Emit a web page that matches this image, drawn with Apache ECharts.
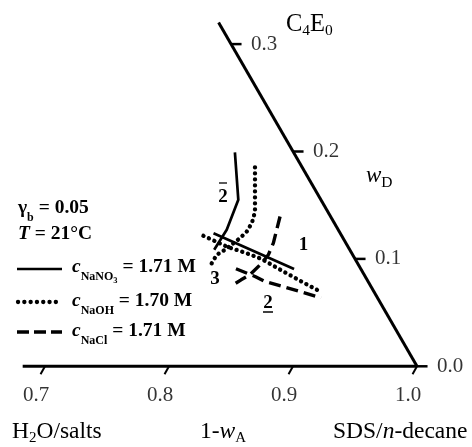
<!DOCTYPE html>
<html><head><meta charset="utf-8">
<script src="https://cdn.jsdelivr.net/npm/echarts@6/dist/echarts.min.js"></script>
<style>html,body{margin:0;padding:0;background:#fff}#c{width:472px;height:447px}</style>
</head><body><div id="c"></div>
<script>
// Ternary data as [1 - w_A, w_D]
const nano3Boundary = [[0.9527,0.1991],[0.9334,0.1550],[0.9101,0.1271],[0.8907,0.1085]];
const nano3Tie = [[0.8978,0.1238],[0.9461,0.0905]];
const naohBoundary = [[0.9620,0.1853],[0.9413,0.1439],[0.9337,0.1336],[0.9255,0.1255],[0.9170,0.1194],[0.8994,0.1085],[0.8904,0.1038],[0.8824,0.0959]];
const naohTie = [[0.8885,0.1215],[0.9023,0.1115],[0.9164,0.1047],[0.9247,0.0998],[0.9364,0.0883],[0.9473,0.0780],[0.9578,0.0687]];
const naclBoundary = [[0.9593,0.1395],[0.9415,0.1147],[0.9320,0.1038],[0.9229,0.0961],[0.9079,0.0852],[0.8984,0.0805],[0.8881,0.0750]];
const naclTie = [[0.8994,0.0908],[0.9112,0.0836],[0.9169,0.0790],[0.9304,0.0737],[0.9404,0.0696],[0.9545,0.0638]];
const bottomTicks = [0.7, 0.8, 0.9, 1.0];
const bottomTickLabels = ['0.7', '0.8', '0.9', '1.0'];
const sideTicks = [0.0, 0.1, 0.2, 0.3];
const sideTickLabels = ['0.0', '0.1', '0.2', '0.3'];
const bottomAxisStart = 0.682;
const sideAxisEnd = 0.32;

// ternary -> cartesian (equilateral): X = (1-w_A) - w_D/2, Y = w_D (y axis scaled by sin60 via pixel ratio)
function toXY(p) { return [p[0] - p[1] / 2, p[1]]; }
const F = 'Liberation Serif';
const K = '#000';

const xMin = 0.7 - 45 / 1240, xMax = xMin + 472 / 1240;
const yMax = 366.3 / 1074, yMin = yMax - 447 / 1074;

const series = [];
function line(data, style) {
  series.push({ type: 'line', data: data, symbol: 'none', silent: true, animation: false,
    lineStyle: Object.assign({ color: K }, style), z: 3 });
}
// axes edges
line([[bottomAxisStart, 0], toXY([1, 0])], { width: 3 });
line([toXY([1, 0]), toXY([1, sideAxisEnd])], { width: 3 });
// bottom ticks (slanted)
bottomTicks.forEach(t => line([[t, 0], [t - 0.0036, -0.0073]], { width: 2 }));
// side ticks (horizontal)
sideTicks.forEach(t => { const p = toXY([1, t]); line([p, [p[0] + 0.0085, p[1]]], { width: 2.5 }); });

// curves
line(nano3Boundary.map(toXY), { width: 2.7 });
line(nano3Tie.map(toXY), { width: 2.7 });
line(naohBoundary.map(toXY), { width: 4.3, type: [0.1, 5.9], cap: 'round' });
line(naohTie.map(toXY), { width: 4.3, type: [0.1, 5.9], cap: 'round' });
line(naclBoundary.map(toXY), { width: 3.4, type: [12, 6] });
line(naclTie.map(toXY), { width: 3.4, type: [12, 6] });

// tick labels
series.push({ type: 'scatter', symbolSize: 0, silent: true, animation: false,
  data: bottomTicks.map((t, i) => ({ value: [t, 0], name: bottomTickLabels[i] })),
  label: { show: true, position: 'inside', formatter: '{b}', offset: [-9, 29], color: K,
    fontFamily: F, fontSize: 21, align: 'center', verticalAlign: 'middle' } });
series.push({ type: 'scatter', symbolSize: 0, silent: true, animation: false,
  data: sideTicks.map((t, i) => ({ value: toXY([1, t]), name: sideTickLabels[i] })),
  label: { show: true, position: 'inside', formatter: '{b}', offset: [20, 0], color: K,
    fontFamily: F, fontSize: 21, align: 'left', verticalAlign: 'middle' } });

const richLeg = {
  ci: { fontFamily: F, fontSize: 19.5, fontWeight: 'bold', fontStyle: 'italic', lineHeight: 20, verticalAlign: 'top' },
  m: { fontFamily: F, fontSize: 19.5, fontWeight: 'bold', lineHeight: 20, verticalAlign: 'top' },
  s: { fontFamily: F, fontSize: 12, fontWeight: 'bold', lineHeight: 12, padding: [14, 0, 0, 0], verticalAlign: 'top' },
  ss: { fontFamily: F, fontSize: 8.5, fontWeight: 'bold', lineHeight: 8, padding: [19, 0, 0, 0], verticalAlign: 'top' }
};
const richT = {
  t: { fontFamily: F, fontSize: 23.5, lineHeight: 24, verticalAlign: 'top' },
  ti: { fontFamily: F, fontSize: 23.5, fontStyle: 'italic', lineHeight: 24, verticalAlign: 'top' },
  ts: { fontFamily: F, fontSize: 15, lineHeight: 14, padding: [11, 0, 0, 0], verticalAlign: 'top' }
};
const richC = {
  t: { fontFamily: F, fontSize: 24.5, lineHeight: 24, verticalAlign: 'top' },
  ti: { fontFamily: F, fontSize: 23, fontStyle: 'italic', lineHeight: 24, verticalAlign: 'top' },
  ts: { fontFamily: F, fontSize: 15.5, lineHeight: 14, padding: [11, 0, 0, 0], verticalAlign: 'top' }
};
function txt(x, yc, text, rich, topOff) {
  return { type: 'text', x: x, y: yc - topOff, silent: true,
    style: { text: text, rich: rich, fill: K, align: 'left', verticalAlign: 'top', font: '18px ' + F } };
}
function bold(x, yc, s) {
  return { type: 'text', x: x, y: yc, silent: true,
    style: { text: s, fill: K, align: 'center', verticalAlign: 'middle', font: 'bold 19px ' + F } };
}
const graphic = [
  txt(18, 208, '{m|γ}{s|b}{m| = 0.05}', richLeg, 10),
  txt(18, 234, '{ci|T}{m| = 21°C}', richLeg, 10),
  txt(72, 267, '{ci|c}{s|NaNO}{ss|3}{m| = 1.71 M}', richLeg, 10),
  txt(72, 301, '{ci|c}{s|NaOH}{m| = 1.70 M}', richLeg, 10),
  txt(72, 331, '{ci|c}{s|NaCl}{m| = 1.71 M}', richLeg, 10),
  { type: 'line', silent: true, shape: { x1: 17, y1: 269, x2: 62, y2: 269 }, style: { stroke: K, lineWidth: 2.7 } },
  { type: 'line', silent: true, shape: { x1: 18, y1: 302, x2: 61, y2: 302 }, style: { stroke: K, lineWidth: 4.3, lineDash: [0.1, 6.2], lineCap: 'round' } },
  { type: 'line', silent: true, shape: { x1: 17, y1: 332, x2: 62, y2: 332 }, style: { stroke: K, lineWidth: 3.4, lineDash: [12, 5] } },
  txt(286, 24, '{t|C}{ts|4}{t|E}{ts|0}', richC, 12),
  txt(366, 176, '{ti|w}{ts|D}', richC, 12),
  txt(12, 432, '{t|H}{ts|2}{t|O/salts}', richT, 12),
  txt(200, 432, '{t|1-}{ti|w}{ts|A}', richT, 12),
  txt(333, 432, '{t|SDS/}{ti|n}{t|-decane}', richT, 12),
  bold(223, 197, '2'),
  { type: 'line', silent: true, shape: { x1: 219, y1: 183, x2: 227, y2: 183 }, style: { stroke: K, lineWidth: 1.3 } },
  bold(303.5, 245, '1'),
  bold(215, 279, '3'),
  bold(268, 303, '2'),
  { type: 'line', silent: true, shape: { x1: 263, y1: 312, x2: 273, y2: 312 }, style: { stroke: K, lineWidth: 1.5 } }
];

const chart = echarts.init(document.getElementById('c'), null, { renderer: 'canvas' });
chart.setOption({
  animation: false,
  backgroundColor: '#fff',
  grid: { left: 0, right: 0, top: 0, bottom: 0, containLabel: false },
  xAxis: { type: 'value', min: xMin, max: xMax, show: false },
  yAxis: { type: 'value', min: yMin, max: yMax, show: false },
  series: series,
  graphic: graphic
});
</script></body></html>
